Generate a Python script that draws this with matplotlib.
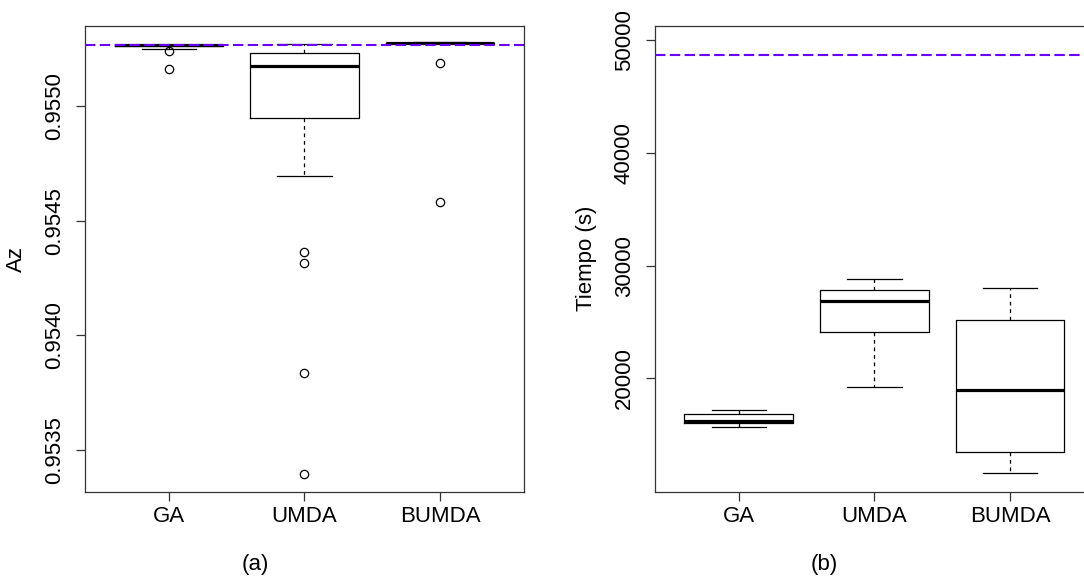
import matplotlib
matplotlib.use('Agg')
import matplotlib.pyplot as plt

plt.rcParams['font.family'] = ['Liberation Sans', 'DejaVu Sans']

# Algorithms
algorithms = ['GA', 'UMDA', 'BUMDA']

# Panel (a): Az box statistics
az_whislo = [0.955251, 0.954697, 0.955275]
az_q1 = [0.955265, 0.954951, 0.955276]
az_med = [0.955267, 0.955175, 0.955278]
az_q3 = [0.955269, 0.955234, 0.955279]
az_whishi = [0.955270, 0.955271, 0.955280]
az_fliers = [
    [0.955243, 0.955162],
    [0.954365, 0.954315, 0.953834, 0.953393],
    [0.955191, 0.954583],
]
az_ref = 0.955268
az_ticks = [0.9535, 0.9540, 0.9545, 0.9550]
az_ticklabels = ['0.9535', '0.9540', '0.9545', '0.9550']

# Panel (b): Tiempo box statistics
t_whislo = [15650, 19250, 11620]
t_q1 = [16010, 24140, 13420]
t_med = [16240, 26830, 18960]
t_q3 = [16800, 27810, 25160]
t_whishi = [17150, 28850, 28040]
t_ref = 48720
t_ticks = [20000, 30000, 40000, 50000]
t_ticklabels = ['20000', '30000', '40000', '50000']


def make_stats(lo, q1, med, q3, hi, fliers=None):
    stats = []
    for i in range(len(algorithms)):
        stats.append({
            'whislo': lo[i], 'q1': q1[i], 'med': med[i], 'q3': q3[i],
            'whishi': hi[i],
            'fliers': fliers[i] if fliers is not None else [],
        })
    return stats


def draw_panel(ax, stats, ref, ylim, ticks, ticklabels, ylabel):
    ax.bxp(stats, positions=[1, 2, 3], widths=0.8, showfliers=True,
           boxprops=dict(color='black', linewidth=0.9),
           medianprops=dict(color='black', linewidth=2.3, solid_capstyle='butt'),
           whiskerprops=dict(color='black', linewidth=0.9, linestyle=(0, (3, 3))),
           capprops=dict(color='black', linewidth=0.9),
           capwidths=0.4,
           flierprops=dict(marker='o', markerfacecolor='none', markeredgecolor='black',
                           markersize=6, markeredgewidth=0.9))
    ax.axhline(ref, color='#6a00ff', linewidth=1.5, dashes=(5.0, 2.1), zorder=5)
    ax.set_xlim(0.38, 3.62)
    ax.set_ylim(*ylim)
    ax.set_xticks([1, 2, 3])
    ax.set_xticklabels(algorithms, fontsize=16)
    ax.set_yticks(ticks)
    ax.set_yticklabels(ticklabels, fontsize=16, rotation=90, va='center')
    ax.tick_params(axis='both', length=6.3, width=0.9, color='#333333')
    ax.tick_params(axis='x', pad=4)
    ax.tick_params(axis='y', pad=8)
    for sp in ax.spines.values():
        sp.set_linewidth(0.9)
        sp.set_color('#333333')
    ax.set_ylabel(ylabel, fontsize=16)
    ax.yaxis.set_label_coords(-0.131, 0.5)


fig = plt.figure(figsize=(10.84, 5.79), dpi=100)
ax1 = fig.add_axes([0.0781, 0.1511, 0.4056, 0.8043])
ax2 = fig.add_axes([0.6039, 0.1511, 0.4056, 0.8043])

draw_panel(ax1, make_stats(az_whislo, az_q1, az_med, az_q3, az_whishi, az_fliers),
           az_ref, (0.953318, 0.955352), az_ticks, az_ticklabels, 'Az')
draw_panel(ax2, make_stats(t_whislo, t_q1, t_med, t_q3, t_whishi),
           t_ref, (9950, 51280), t_ticks, t_ticklabels, 'Tiempo (s)')

fig.text(0.2351, 0.0242, '(a)', fontsize=16, ha='center', va='center')
fig.text(0.7601, 0.0242, '(b)', fontsize=16, ha='center', va='center')

plt.savefig('out.png', dpi=100)
